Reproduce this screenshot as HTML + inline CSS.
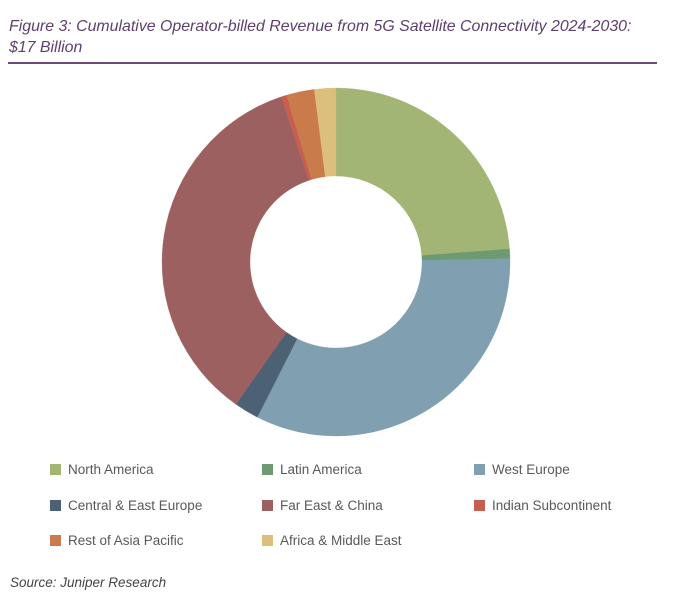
<!DOCTYPE html>
<html><head><meta charset="utf-8"><style>
body{margin:0;width:678px;height:597px;background:#fff;font-family:"Liberation Sans",sans-serif;position:relative;overflow:hidden}
.title{position:absolute;left:9px;top:16px;font-style:italic;color:#5e3f6e;font-size:15.9px;line-height:21px;white-space:nowrap}
.rule{position:absolute;left:8px;top:62px;width:649px;height:2px;background:#6b4a7a}
.leg{position:absolute;font-size:13.5px;color:#595959;display:flex;align-items:center}
.leg i{display:inline-block;width:11px;height:11px;margin-right:7px}
.src{position:absolute;left:10px;top:575px;font-style:italic;color:#444;font-size:13.5px}
</style></head><body>
<div class="title">Figure 3: Cumulative Operator-billed Revenue from 5G Satellite Connectivity 2024-2030:<br>$17 Billion</div>
<div class="rule"></div>
<svg id="chart" width="678" height="597" style="position:absolute;left:0;top:0"></svg>
<div id="legend"></div>
<div class="src">Source: Juniper Research</div>
<script>
const categories=["North America","Latin America","West Europe","Central & East Europe","Far East & China","Indian Subcontinent","Rest of Asia Pacific","Africa & Middle East"];
const values=[23.9,0.9,32.9,2.3,35.3,0.5,2.6,2.0];
const colors=["#a3b574","#6e9a72","#809fb0","#4c6174","#9d6060","#c75f50","#c97b4b","#dcbe7d"];
const svg=document.getElementById('chart');
const cx=336,cy=262,R=174,r=86;
const total=values.reduce((a,b)=>a+b,0);
let a0=0;
function pt(a,rad){return [cx+rad*Math.sin(a),cy-rad*Math.cos(a)];}
values.forEach((v,i)=>{
 const a1=a0+v/total*2*Math.PI;
 const [x1,y1]=pt(a0,R),[x2,y2]=pt(a1,R),[x3,y3]=pt(a1,r),[x4,y4]=pt(a0,r);
 const lg=(a1-a0)>Math.PI?1:0;
 const p=document.createElementNS('http://www.w3.org/2000/svg','path');
 p.setAttribute('d',`M${x1},${y1}A${R},${R} 0 ${lg} 1 ${x2},${y2}L${x3},${y3}A${r},${r} 0 ${lg} 0 ${x4},${y4}Z`);
 p.setAttribute('fill',colors[i]);
 p.setAttribute('stroke',colors[i]);p.setAttribute('stroke-width','0.3');
 
 
 svg.appendChild(p);
 a0=a1;
});
const lg=document.getElementById('legend');
categories.forEach((c,i)=>{
 const d=document.createElement('div');
 d.className='leg';
 d.style.left=(50+(i%3)*212)+'px';
 d.style.top=(462+Math.floor(i/3)*35.5)+'px';
 d.innerHTML=`<i style="background:${colors[i]}"></i>${c.replace('&','&amp;')}`;
 
 
 lg.appendChild(d);
});
</script>
</body></html>
